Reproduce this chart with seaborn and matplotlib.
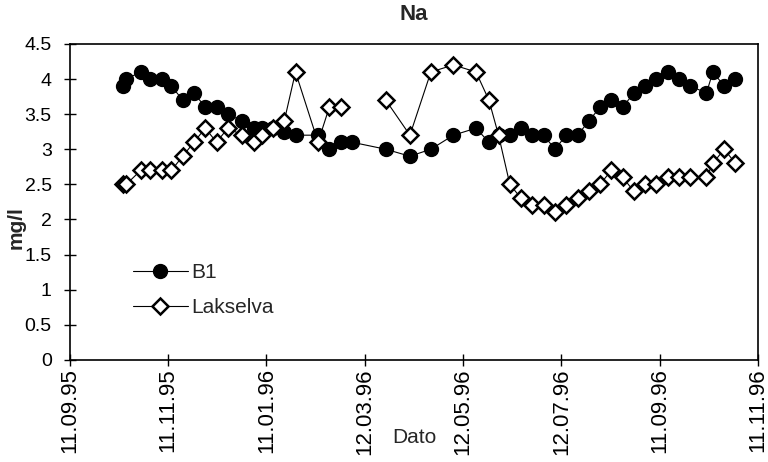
import seaborn as sns
import matplotlib.pyplot as plt
import matplotlib.dates as mdates
from matplotlib.lines import Line2D
from matplotlib.ticker import FuncFormatter
import pandas as pd
import numpy as np

# sampling dates
dates = [
    "1995-10-14", "1995-10-16", "1995-10-25", "1995-10-31", "1995-11-07",
    "1995-11-13", "1995-11-20", "1995-11-27", "1995-12-04", "1995-12-11",
    "1995-12-18", "1995-12-27", "1996-01-03", "1996-01-08", "1996-01-15",
    "1996-01-22", "1996-01-29", "1996-02-12", "1996-02-19", "1996-02-26",
    "1996-03-04", "1996-03-25", "1996-04-09", "1996-04-22", "1996-05-06",
    "1996-05-20", "1996-05-28", "1996-06-03", "1996-06-10", "1996-06-17",
    "1996-06-24", "1996-07-01", "1996-07-08", "1996-07-15", "1996-07-22",
    "1996-07-29", "1996-08-05", "1996-08-12", "1996-08-19", "1996-08-26",
    "1996-09-02", "1996-09-09", "1996-09-16", "1996-09-23", "1996-09-30",
    "1996-10-10", "1996-10-14", "1996-10-21", "1996-10-28",
]

b1 = [
    3.9, 4.0, 4.1, 4.0, 4.0, 3.9, 3.7, 3.8, 3.6, 3.6,
    3.5, 3.4, 3.3, 3.3, 3.3, 3.25, 3.2, 3.2, 3.0, 3.1,
    3.1, 3.0, 2.9, 3.0, 3.2, 3.3, 3.1, 3.2, 3.2, 3.3,
    3.2, 3.2, 3.0, 3.2, 3.2, 3.4, 3.6, 3.7, 3.6, 3.8,
    3.9, 4.0, 4.1, 4.0, 3.9, 3.8, 4.1, 3.9, 4.0,
]

lakselva = [
    2.5, 2.5, 2.7, 2.7, 2.7, 2.7, 2.9, 3.1, 3.3, 3.1,
    3.3, 3.2, 3.1, 3.2, 3.3, 3.4, 4.1, 3.1, 3.6, 3.6,
    np.nan, 3.7, 3.2, 4.1, 4.2, 4.1, 3.7, 3.2, 2.5, 2.3,
    2.2, 2.2, 2.1, 2.2, 2.3, 2.4, 2.5, 2.7, 2.6, 2.4,
    2.5, 2.5, 2.6, 2.6, 2.6, 2.6, 2.8, 3.0, 2.8,
]

tick_dates = [
    "1995-09-11", "1995-11-11", "1996-01-11", "1996-03-12",
    "1996-05-12", "1996-07-12", "1996-09-11", "1996-11-11",
]
y_ticks = [0, 0.5, 1, 1.5, 2, 2.5, 3, 3.5, 4, 4.5]

df = pd.DataFrame({"Dato": pd.to_datetime(dates), "B1": b1, "Lakselva": lakselva})
# missing Lakselva sample breaks the line
df["seg"] = df["Lakselva"].isna().cumsum()
df_l = df.dropna(subset=["Lakselva"])

sns.set_theme(style="white")
plt.rcParams["font.family"] = ["Liberation Sans", "DejaVu Sans"]

fig, ax = plt.subplots(figsize=(7.68, 4.62), dpi=100)
plt.subplots_adjust(left=0.091, right=0.987, bottom=0.221, top=0.905)

sns.lineplot(
    data=df, x="Dato", y="B1", ax=ax, estimator=None, sort=False,
    color="black", linewidth=0.8, marker="o", markersize=10,
    markerfacecolor="black", markeredgecolor="black", markeredgewidth=1,
    zorder=2,
)
sns.lineplot(
    data=df_l, x="Dato", y="Lakselva", units="seg", ax=ax, estimator=None,
    sort=False, color="black", linewidth=0.8, marker="D", markersize=8.5,
    markerfacecolor="white", markeredgecolor="black", markeredgewidth=1.8,
    zorder=3,
)

ticks = pd.to_datetime(tick_dates)
ax.set_xlim(ticks[0], ticks[-1])
ax.set_xticks(ticks)
ax.xaxis.set_major_formatter(mdates.DateFormatter("%d.%m.%y"))
ax.set_ylim(0, 4.5)
ax.set_yticks(y_ticks)
ax.yaxis.set_major_formatter(FuncFormatter(lambda v, p: f"{v:g}"))

ax.tick_params(axis="x", rotation=90, labelsize=16, direction="inout",
               length=8, width=1, colors="black", pad=2)
ax.tick_params(axis="y", labelsize=14, direction="inout",
               length=8, width=1, colors="black", pad=9)
ax.tick_params(left=True, bottom=True)

for s in ax.spines.values():
    s.set_color("black")
    s.set_linewidth(1.2)

ax.set_title("Na", fontsize=16, weight="bold", pad=17)
ax.set_xlabel("Dato", fontsize=15)
ax.xaxis.set_label_coords(0.5, -0.215)
ax.set_ylabel("mg/l", fontsize=15, weight="bold")
ax.yaxis.set_label_coords(-0.064, 0.418)

handles = [
    Line2D([], [], color="black", linewidth=0.8, marker="o", markersize=10,
           markerfacecolor="black", markeredgecolor="black"),
    Line2D([], [], color="black", linewidth=0.8, marker="D", markersize=8.5,
           markerfacecolor="white", markeredgecolor="black", markeredgewidth=1.8),
]
ax.legend(handles, ["B1", "Lakselva"], loc="upper left",
          bbox_to_anchor=(0.065, 0.365), frameon=False, fontsize=15,
          handlelength=2.6, labelspacing=0.75, handletextpad=0.2)

plt.savefig("out.png", dpi=100)
